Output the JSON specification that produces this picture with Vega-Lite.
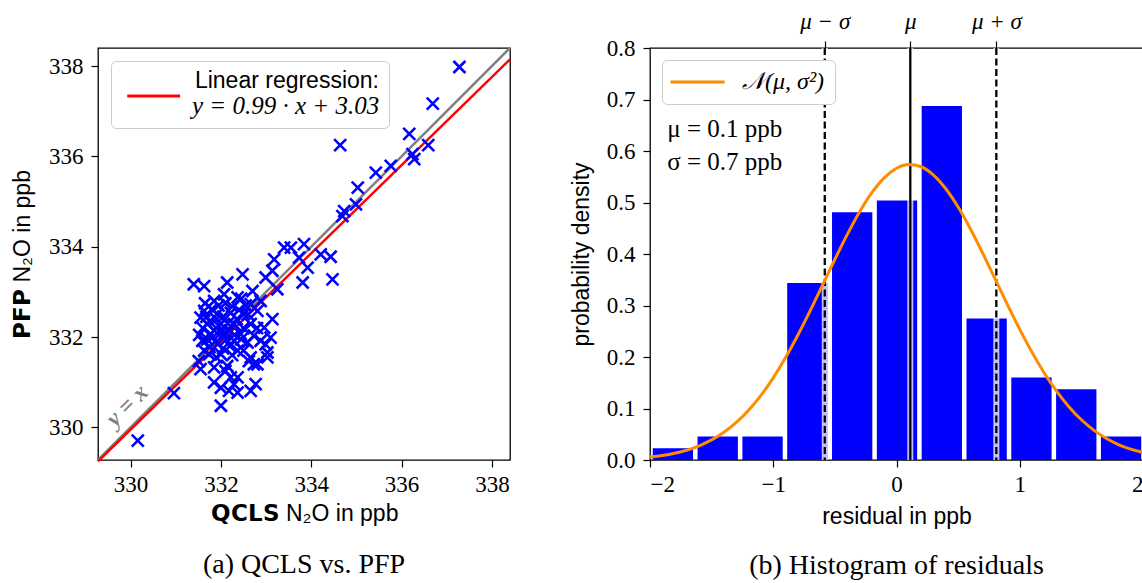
{
  "$schema": "https://vega.github.io/schema/vega-lite/v6.json",
  "padding": {"left": 10, "top": 9, "right": 0, "bottom": 0},
  "background": "white",
  "bounds": "flush",
  "spacing": 140,
  "resolve": {"scale": {"color": "independent"}, "legend": {"color": "independent"}},
  "config": {
    "view": {"stroke": "black", "strokeWidth": 1.3},
    "axis": {"domain": false, "grid": false, "tickColor": "black", "tickSize": 7, "tickWidth": 1.2, "labelFont": "Liberation Serif", "labelFontSize": 23, "labelColor": "black", "labelPadding": 7, "titleFont": "Liberation Sans", "titleFontSize": 23, "titleFontWeight": "normal", "titleColor": "black"}
  },
  "hconcat": [
    {
      "width": 412,
      "height": 412,
      "title": {"text": "(a) QCLS vs. PFP", "orient": "bottom", "frame": "group", "anchor": "middle", "font": "Liberation Serif", "fontSize": 28, "fontWeight": "normal", "color": "black", "offset": 26},
      "layer": [
        {
          "data": {"values": [{"q": 329.28, "p": 329.28}, {"q": 338.4, "p": 338.4}]},
          "mark": {"type": "line", "color": "#808080", "strokeWidth": 2.5},
          "encoding": {
            "x": {"field": "q", "type": "quantitative", "scale": {"domain": [329.28, 338.4], "nice": false, "zero": false}},
            "y": {"field": "p", "type": "quantitative", "scale": {"domain": [329.28, 338.4], "nice": false, "zero": false}}
          }
        },
        {
          "data": {"values": [{"q": 329.28, "p": 329.25, "fit": "y = 0.99 · x + 3.03"}, {"q": 338.4, "p": 338.15, "fit": "y = 0.99 · x + 3.03"}]},
          "mark": {"type": "line", "strokeWidth": 2.5},
          "encoding": {
            "x": {"field": "q", "type": "quantitative"},
            "y": {"field": "p", "type": "quantitative"},
            "color": {"field": "fit", "type": "nominal", "scale": {"range": ["#ff0000"]},
              "legend": {"title": "Linear regression:", "orient": "top-left", "offset": 13, "fillColor": "white", "strokeColor": "#cccccc", "cornerRadius": 5, "padding": 9, "symbolType": "M-1,-1.8H9", "symbolSize": 112, "symbolStrokeWidth": 3, "symbolFillColor": "transparent", "labelFont": "Liberation Serif", "labelFontStyle": "italic", "labelFontSize": 25, "labelOffset": 47, "labelLimit": 400, "labelColor": "black", "titleFont": "Liberation Sans", "titleFontSize": 23, "titleFontWeight": "normal", "titleAnchor": "end", "titleColor": "black", "titlePadding": 0, "titleLimit": 400}}
          }
        },
        {
          "data": {"values": [
            {"q": 330.16, "p": 329.71}, {"q": 330.96, "p": 330.76}, {"q": 332.00, "p": 330.48}, {"q": 337.28, "p": 337.98},
            {"q": 336.69, "p": 337.17}, {"q": 334.64, "p": 336.25}, {"q": 336.17, "p": 336.50}, {"q": 336.59, "p": 336.25},
            {"q": 336.24, "p": 336.05}, {"q": 336.28, "p": 335.94}, {"q": 335.43, "p": 335.64}, {"q": 335.76, "p": 335.79},
            {"q": 335.03, "p": 335.31}, {"q": 334.99, "p": 334.94}, {"q": 334.73, "p": 334.79}, {"q": 334.69, "p": 334.68},
            {"q": 334.47, "p": 333.28}, {"q": 334.43, "p": 333.78}, {"q": 334.21, "p": 333.83}, {"q": 333.84, "p": 334.06},
            {"q": 333.92, "p": 333.54}, {"q": 333.81, "p": 333.21}, {"q": 333.55, "p": 333.98}, {"q": 333.40, "p": 333.98},
            {"q": 333.73, "p": 333.76}, {"q": 333.18, "p": 333.72}, {"q": 333.14, "p": 333.47}, {"q": 332.99, "p": 333.32},
            {"q": 333.25, "p": 333.06}, {"q": 332.48, "p": 333.39}, {"q": 331.40, "p": 333.17}, {"q": 331.63, "p": 333.13},
            {"q": 332.14, "p": 333.21}, {"q": 332.70, "p": 333.02}, {"q": 333.14, "p": 332.40}, {"q": 332.99, "p": 331.84},
            {"q": 333.03, "p": 331.66}, {"q": 332.73, "p": 331.40}, {"q": 332.62, "p": 331.47}, {"q": 332.77, "p": 330.96},
            {"q": 332.66, "p": 330.81}, {"q": 332.37, "p": 331.11}, {"q": 332.29, "p": 330.96}, {"q": 332.18, "p": 330.81},
            {"q": 331.85, "p": 331.00}, {"q": 332.10, "p": 331.25}, {"q": 331.55, "p": 331.29}, {"q": 331.51, "p": 331.47},
            {"q": 331.74, "p": 331.62}, {"q": 331.85, "p": 332.80}, {"q": 332.07, "p": 332.95}, {"q": 332.37, "p": 332.88},
            {"q": 332.66, "p": 332.73}, {"q": 332.88, "p": 332.80}, {"q": 331.63, "p": 332.58}, {"q": 331.55, "p": 332.43},
            {"q": 331.92, "p": 332.51}, {"q": 332.22, "p": 332.54}, {"q": 332.51, "p": 332.51}, {"q": 332.81, "p": 332.58},
            {"q": 331.70, "p": 332.29}, {"q": 332.00, "p": 332.29}, {"q": 332.29, "p": 332.29}, {"q": 332.66, "p": 332.29},
            {"q": 332.96, "p": 332.21}, {"q": 331.77, "p": 332.07}, {"q": 332.07, "p": 332.07}, {"q": 332.44, "p": 332.07},
            {"q": 332.73, "p": 332.03}, {"q": 331.59, "p": 331.92}, {"q": 331.92, "p": 331.85}, {"q": 332.29, "p": 331.92},
            {"q": 332.59, "p": 331.88}, {"q": 332.88, "p": 331.92}, {"q": 333.10, "p": 331.99}, {"q": 331.63, "p": 331.70},
            {"q": 332.00, "p": 331.62}, {"q": 332.37, "p": 331.70}, {"q": 332.66, "p": 331.55}, {"q": 331.85, "p": 331.33},
            {"q": 332.14, "p": 331.36}, {"q": 332.81, "p": 331.40}, {"q": 333.03, "p": 331.55}, {"q": 332.00, "p": 330.88},
            {"q": 332.22, "p": 331.11}, {"q": 332.37, "p": 330.77}, {"q": 331.60, "p": 332.20}, {"q": 331.52, "p": 332.05},
            {"q": 331.68, "p": 332.45}, {"q": 331.80, "p": 332.62}, {"q": 331.95, "p": 332.70}, {"q": 332.10, "p": 332.75},
            {"q": 332.25, "p": 332.68}, {"q": 332.40, "p": 332.60}, {"q": 332.55, "p": 332.70}, {"q": 331.75, "p": 332.35},
            {"q": 331.90, "p": 332.40}, {"q": 332.05, "p": 332.45}, {"q": 332.15, "p": 332.30}, {"q": 332.35, "p": 332.40},
            {"q": 332.50, "p": 332.20}, {"q": 331.85, "p": 332.15}, {"q": 332.00, "p": 332.10}, {"q": 332.20, "p": 332.15},
            {"q": 332.30, "p": 332.05}, {"q": 331.70, "p": 331.95}, {"q": 331.82, "p": 332.00}, {"q": 332.12, "p": 331.95},
            {"q": 332.45, "p": 331.95}, {"q": 332.20, "p": 331.80}, {"q": 331.75, "p": 331.78}, {"q": 332.05, "p": 331.75},
            {"q": 332.50, "p": 331.70}, {"q": 331.90, "p": 331.55}, {"q": 332.25, "p": 331.60}, {"q": 332.45, "p": 332.85},
            {"q": 332.60, "p": 332.50}, {"q": 331.65, "p": 332.75}, {"q": 332.80, "p": 332.20}, {"q": 331.95, "p": 332.25}
          ]},
          "mark": {"type": "point", "shape": "M-1,-1L1,1M-1,1L1,-1", "filled": false, "stroke": "#0000ff", "strokeWidth": 2.6, "size": 144, "opacity": 1},
          "encoding": {
            "x": {"field": "q", "type": "quantitative", "axis": {"orient": "bottom", "values": [330, 332, 334, 336, 338], "format": "d", "title": "𝗤𝗖𝗟𝗦 N₂O in ppb", "labelFont": "Liberation Serif", "labelFontSize": 23, "titleFont": "Liberation Sans", "titleFontSize": 23, "labelPadding": 6, "titlePadding": 6}},
            "y": {"field": "p", "type": "quantitative", "axis": {"orient": "left", "values": [330, 332, 334, 336, 338], "format": "d", "title": "𝗣𝗙𝗣 N₂O in ppb", "labelFont": "Liberation Serif", "labelFontSize": 23, "titleFont": "Liberation Sans", "titleFontSize": 23, "labelPadding": 8, "titlePadding": 14}}
          }
        },
        {
          "data": {"values": [{"q": 329.93, "p": 330.48, "t": "y = x"}]},
          "mark": {"type": "text", "angle": 315, "align": "center", "baseline": "middle", "font": "Liberation Serif", "fontStyle": "italic", "fontWeight": "bold", "fontSize": 24, "color": "#808080"},
          "encoding": {
            "x": {"field": "q", "type": "quantitative"},
            "y": {"field": "p", "type": "quantitative"},
            "text": {"field": "t"}
          }
        }
      ]
    },
    {
      "width": 493,
      "height": 412,
      "title": {"text": "(b) Histogram of residuals", "orient": "bottom", "frame": "group", "anchor": "middle", "font": "Liberation Serif", "fontSize": 28, "fontWeight": "normal", "color": "black", "offset": 24},
      "layer": [
        {
          "data": {"values": [
            {"lo": -2.0, "hi": -1.6364, "dens": 0.0229},
            {"lo": -1.6364, "hi": -1.2727, "dens": 0.0458},
            {"lo": -1.2727, "hi": -0.9091, "dens": 0.0458},
            {"lo": -0.9091, "hi": -0.5455, "dens": 0.3437},
            {"lo": -0.5455, "hi": -0.1818, "dens": 0.4812},
            {"lo": -0.1818, "hi": 0.1818, "dens": 0.5041},
            {"lo": 0.1818, "hi": 0.5455, "dens": 0.6875},
            {"lo": 0.5455, "hi": 0.9091, "dens": 0.2750},
            {"lo": 0.9091, "hi": 1.2727, "dens": 0.1604},
            {"lo": 1.2727, "hi": 1.6364, "dens": 0.1375},
            {"lo": 1.6364, "hi": 2.0, "dens": 0.0458}
          ]},
          "mark": {"type": "bar", "color": "#0000ff", "binSpacing": 4.5},
          "encoding": {
            "x": {"field": "lo", "type": "quantitative", "bin": "binned", "scale": {"domain": [-2, 2], "nice": false, "zero": false},
              "axis": {"orient": "bottom", "values": [-2, -1, 0, 1, 2], "format": "d", "title": "residual in ppb", "labelFont": "Liberation Serif", "labelFontSize": 23, "titleFont": "Liberation Sans", "titleFontSize": 23, "labelPadding": 6, "titlePadding": 9}},
            "x2": {"field": "hi"},
            "y": {"field": "dens", "type": "quantitative", "scale": {"domain": [0, 0.8], "nice": false, "zero": true},
              "axis": {"orient": "left", "values": [0, 0.1, 0.2, 0.3, 0.4, 0.5, 0.6, 0.7, 0.8], "format": ".1f", "title": "probability density", "labelFont": "Liberation Serif", "labelFontSize": 23, "titleFont": "Liberation Sans", "titleFontSize": 23, "labelPadding": 8, "titlePadding": 13}}
          }
        },
        {
          "data": {"values": [{"pos": -0.582, "kind": "dashed"}, {"pos": 0.112, "kind": "solid"}, {"pos": 0.810, "kind": "dashed"}]},
          "mark": {"type": "rule", "color": "white", "strokeWidth": 6, "opacity": 0.75},
          "encoding": {
            "x": {"field": "pos", "type": "quantitative", "axis": null}
          }
        },
        {
          "data": {"values": [{"pos": -0.582, "kind": "dashed"}, {"pos": 0.112, "kind": "solid"}, {"pos": 0.810, "kind": "dashed"}]},
          "mark": {"type": "rule", "color": "black", "strokeWidth": 2.3},
          "encoding": {
            "x": {"field": "pos", "type": "quantitative",
              "axis": {"orient": "top", "values": [-0.582, 0.112, 0.81], "labelExpr": "datum.value < -0.3 ? 'μ − σ' : (datum.value < 0.5 ? 'μ' : 'μ + σ')", "title": null, "labelFont": "Liberation Serif", "labelFontStyle": "italic", "labelFontSize": 23, "labelPadding": 8}},
            "strokeDash": {"field": "kind", "type": "nominal", "scale": {"domain": ["solid", "dashed"], "range": [[1, 0], [7, 3.5]]}, "legend": null}
          }
        },
        {
          "data": {"values": [
            {"r": -2.0, "dens": 0.00567}, {"r": -1.9, "dens": 0.00869}, {"r": -1.8, "dens": 0.01304}, {"r": -1.7, "dens": 0.01918},
            {"r": -1.6, "dens": 0.02764}, {"r": -1.5, "dens": 0.03896}, {"r": -1.4, "dens": 0.05386}, {"r": -1.3, "dens": 0.07288},
            {"r": -1.2, "dens": 0.09662}, {"r": -1.1, "dens": 0.12547}, {"r": -1.0, "dens": 0.15960}, {"r": -0.9, "dens": 0.19886},
            {"r": -0.8, "dens": 0.24265}, {"r": -0.7, "dens": 0.29007}, {"r": -0.6, "dens": 0.33964}, {"r": -0.5, "dens": 0.38953},
            {"r": -0.4, "dens": 0.43757}, {"r": -0.3, "dens": 0.48151}, {"r": -0.2, "dens": 0.51898}, {"r": -0.1, "dens": 0.54791},
            {"r": 0.0, "dens": 0.56659}, {"r": 0.1, "dens": 0.57391}, {"r": 0.2, "dens": 0.56942}, {"r": 0.3, "dens": 0.55338},
            {"r": 0.4, "dens": 0.52677}, {"r": 0.5, "dens": 0.49117}, {"r": 0.6, "dens": 0.44859}, {"r": 0.7, "dens": 0.40129},
            {"r": 0.8, "dens": 0.35166}, {"r": 0.9, "dens": 0.30181}, {"r": 1.0, "dens": 0.25375}, {"r": 1.1, "dens": 0.20897},
            {"r": 1.2, "dens": 0.16855}, {"r": 1.3, "dens": 0.13318}, {"r": 1.4, "dens": 0.10308}, {"r": 1.5, "dens": 0.07812},
            {"r": 1.6, "dens": 0.05800}, {"r": 1.7, "dens": 0.04218}, {"r": 1.8, "dens": 0.03006}, {"r": 1.9, "dens": 0.02098},
            {"r": 2.0, "dens": 0.01434}
          ]},
          "mark": {"type": "line", "strokeWidth": 3, "interpolate": "monotone"},
          "encoding": {
            "x": {"field": "r", "type": "quantitative", "axis": null},
            "y": {"field": "dens", "type": "quantitative"},
            "color": {"datum": "𝒩(μ, σ²)", "type": "nominal", "scale": {"range": ["#ff8c00"]},
              "legend": {"title": null, "orient": "top-left", "offset": 12, "fillColor": "white", "strokeColor": "#cccccc", "cornerRadius": 5, "padding": 10, "symbolType": "M-2.5,0H7.5", "symbolSize": 117, "symbolStrokeWidth": 3, "symbolFillColor": "transparent", "labelFont": "Liberation Serif", "labelFontStyle": "italic", "labelFontSize": 24, "labelOffset": 46, "labelLimit": 400, "labelColor": "black"}}
          }
        },
        {
          "data": {"values": [{"r": -1.86, "dens": 0.642, "t": "μ = 0.1 ppb"}, {"r": -1.86, "dens": 0.578, "t": "σ = 0.7 ppb"}]},
          "mark": {"type": "text", "align": "left", "baseline": "middle", "font": "Liberation Serif", "fontSize": 25, "color": "black"},
          "encoding": {
            "x": {"field": "r", "type": "quantitative", "axis": null},
            "y": {"field": "dens", "type": "quantitative"},
            "text": {"field": "t"}
          }
        }
      ]
    }
  ]
}
